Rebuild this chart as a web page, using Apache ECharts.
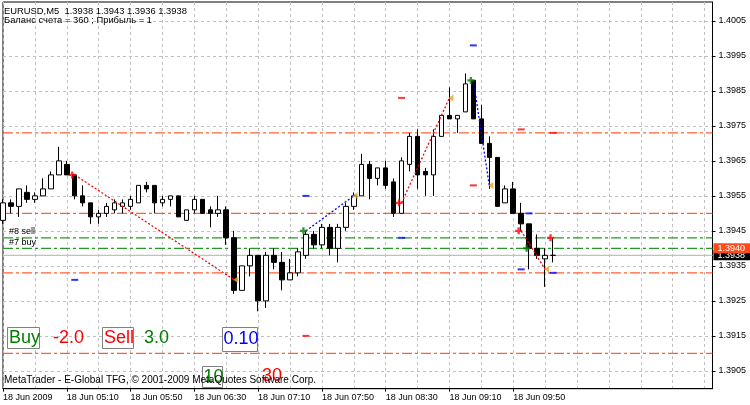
<!DOCTYPE html>
<html><head><meta charset="utf-8">
<script src="https://cdn.jsdelivr.net/npm/echarts@6/dist/echarts.min.js"></script>
<style>html,body{margin:0;padding:0;background:#fff}#c{width:750px;height:405px}</style>
</head><body><div id="c"></div>
<script>
// ---- categories (5-minute bars, 18 Jun 2009) ----
const times = ["04:30","04:35","04:40","04:45","04:50","04:55",
"05:00","05:05","05:10","05:15","05:20","05:25","05:30","05:35","05:40","05:45","05:50","05:55",
"06:00","06:05","06:10","06:15","06:20","06:25","06:30","06:35","06:40","06:45","06:50","06:55",
"07:00","07:05","07:10","07:15","07:20","07:25","07:30","07:35","07:40","07:45","07:50","07:55",
"08:00","08:05","08:10","08:15","08:20","08:25","08:30","08:35","08:40","08:45","08:50","08:55",
"09:00","09:05","09:10","09:15","09:20","09:25","09:30","09:35","09:40","09:45","09:50","09:55",
"10:00","10:05","10:10","10:15","10:20","10:25","10:30","10:35","10:40","10:45","10:50","10:55",
"11:00","11:05","11:10","11:15","11:20","11:25","11:30","11:35","11:40","11:45","11:50","11:55"];
const dateLabel = "18 Jun 2009";
const dayPrefix = "18 Jun ";

// ---- OHLC ----
const opens  = [1.3948,1.3953,1.3952,1.3956,1.3954,1.3955,1.3957,1.3961,1.3964,1.3961,
1.3955,1.3953,1.3949,1.3950,1.3951,1.3952,1.3952,1.3953,1.3958,1.3958,
1.3953,1.3954,1.3955,1.3948,1.3951,1.3954,1.3951,1.3950,1.3951,1.3943,
1.3928,1.3935,1.3938,1.3925,1.3938,1.3936,1.3931,1.3933,1.3938,1.3944,
1.3941,1.3946,1.3940,1.3946,1.3952,1.3955,1.3964,1.3960,1.3963,1.3959,
1.3950,1.3964,1.3972,1.3962,1.3961,1.3972,1.3978,1.3977,1.3979,1.3988,
1.3977,1.3970,1.3966,1.3953,1.3957,1.3950,1.3947,1.3940,1.3937,1.3938];
const highs  = [1.3954,1.3954,1.3957,1.3958,1.3956,1.3960,1.3962,1.3969,1.3965,1.3961,
1.3958,1.3953,1.3951,1.3953,1.3954,1.3954,1.3955,1.3958,1.3959,1.3958,
1.3955,1.3955,1.3955,1.3951,1.3955,1.3954,1.3952,1.3955,1.3952,1.3945,
1.3935,1.3940,1.3938,1.3939,1.3940,1.3939,1.3937,1.3940,1.3945,1.3945,
1.3947,1.3947,1.3947,1.3953,1.3956,1.3967,1.3965,1.3963,1.3965,1.3960,
1.3966,1.3973,1.3974,1.3963,1.3974,1.3978,1.3986,1.3978,1.3990,1.3988,
1.3981,1.3972,1.3966,1.3958,1.3959,1.3953,1.3947,1.3944,1.3940,1.3943];
const lows   = [1.3947,1.3950,1.3949,1.3953,1.3953,1.3955,1.3957,1.3961,1.3961,1.3954,
1.3952,1.3947,1.3947,1.3949,1.3950,1.3950,1.3951,1.3953,1.3956,1.3950,
1.3952,1.3952,1.3949,1.3948,1.3950,1.3950,1.3946,1.3949,1.3941,1.3927,
1.3928,1.3932,1.3922,1.3923,1.3934,1.3928,1.3931,1.3932,1.3937,1.3940,
1.3940,1.3938,1.3936,1.3945,1.3951,1.3955,1.3954,1.3958,1.3957,1.3949,
1.3950,1.3962,1.3957,1.3955,1.3955,1.3972,1.3977,1.3973,1.3979,1.3977,
1.3970,1.3957,1.3952,1.3953,1.3950,1.3945,1.3934,1.3937,1.3929,1.3936];
const closes = [1.3953,1.3952,1.3957,1.3954,1.3955,1.3957,1.3961,1.3965,1.3961,1.3955,
1.3953,1.3949,1.3950,1.3952,1.3953,1.3953,1.3954,1.3958,1.3957,1.3953,
1.3954,1.3955,1.3949,1.3951,1.3954,1.3950,1.3950,1.3951,1.3943,1.3928,
1.3935,1.3938,1.3925,1.3938,1.3936,1.3931,1.3933,1.3939,1.3944,1.3941,
1.3946,1.3940,1.3946,1.3952,1.3955,1.3964,1.3960,1.3963,1.3958,1.3950,
1.3965,1.3972,1.3961,1.3961,1.3972,1.3978,1.3977,1.3978,1.3987,1.3977,
1.3970,1.3966,1.3952,1.3957,1.3950,1.3947,1.3940,1.3938,1.3938,1.3938];

// ---- price axis ticks ----
const priceTicks = [1.3905,1.3915,1.3925,1.3935,1.3945,1.3955,1.3965,1.3975,1.3985,1.3995,1.4005];

// ---- level lines ----
const stopLevels  = [1.3973,1.3950,1.3933,1.3910];
const orderLevels = [1.3943,1.3940];
const orderNames  = ["#8 sell","#7 buy"];
const bidPrice = 1.3938;
const markPrice = 1.3940;

// ---- closed trades ----
const tradeSide       = ["sell","buy","sell","buy","sell"];
const tradeOpenBar    = [9,38,50,59,65];
const tradeOpenPrice  = [1.3961,1.3945,1.3953,1.3988,1.3945];
const tradeCloseBar   = [29,44,56,61,68];
const tradeClosePrice = [1.3931,1.3955,1.3983,1.3958,1.3934];
// ---- open orders ----
const openOrderSide  = ["buy","sell"];
const openOrderBar   = [66,69];
const openOrderPrice = [1.3940,1.3943];
// ---- stop-loss / take-profit markers ----
const slBar   = [38,50,59,65,69];
const slPrice = [1.3915,1.3983,1.3958,1.3974,1.3973];
const tpBar   = [9,38,50,59,65,66,69];
const tpPrice = [1.3931,1.3955,1.3943,1.3998,1.3934,1.3950,1.3933];

// ---- texts ----
const headerLine1 = "EURUSD,M5  1.3938 1.3943 1.3936 1.3938";
const headerLine2 = "Баланс счета = 360 ; Прибыль = 1";
const footerText = "MetaTrader - E-Global TFG, © 2001-2009 MetaQuotes Software Corp.";

const FONT = '"Liberation Sans", Arial, sans-serif';
const lastBar = opens.length - 1;
const lastCat = times.length - 1;
const candleData = opens.map((o,i)=>[o, closes[i], lows[i], highs[i]]);

const PLUS = 'path://M2,0H4V2H6V4H4V6H2V4H0V2H2Z';
const TRI  = 'path://M0,3L5,0L5,6Z';
const DASHDOT = [10,3,3,3];

const series = [];
const flat = (p)=>[[0,p],[lastCat,p]];
stopLevels.forEach(p=>series.push({type:'line', z:1, symbol:'none', silent:true, data:flat(p),
  lineStyle:{color:'#ff6230', type:DASHDOT, width:1.3}}));
orderLevels.forEach((p,i)=>series.push({type:'line', z:1, symbol:'none', silent:true, data:flat(p),
  lineStyle:{color:'#249a24', type:DASHDOT, width:1.3}}));
series.push({type:'line', z:1, symbol:'none', silent:true, data:flat(bidPrice),
  lineStyle:{color:'#c0c0c0', type:'solid', width:1.2},
  endLabel:{show:true, formatter:bidPrice.toFixed(4), color:'#fff', backgroundColor:'#000', fontSize:9, fontFamily:FONT, padding:[1,6,0,4], distance:1}});
series.push({type:'line', z:1, symbol:'none', silent:true, data:flat(markPrice),
  lineStyle:{opacity:0},
  endLabel:{show:true, formatter:markPrice.toFixed(4), color:'#fff', backgroundColor:'#ff4a1a', fontSize:9, fontFamily:FONT, padding:[1,6,0,4], distance:1}});

series.push({type:'candlestick', data:candleData, z:3, barWidth:5, clip:true,
  itemStyle:{color:'#fff', color0:'#000', borderColor:'#000', borderColor0:'#000', borderWidth:1}});

tradeSide.forEach((s,i)=>{
  series.push({type:'line', z:4, symbol:'none', silent:true,
    data:[[tradeOpenBar[i], tradeOpenPrice[i]],[tradeCloseBar[i], tradeClosePrice[i]]],
    lineStyle:{color: s==='sell'?'#ff0000':'#0000ff', width:1.3, type:[2,2]}});
});
series.push({type:'scatter', z:5, symbol:'rect', symbolSize:[7,2], itemStyle:{color:'#ff0000'},
  data: slBar.map((b,i)=>[b, slPrice[i]])});
series.push({type:'scatter', z:5, symbol:'rect', symbolSize:[7,2], itemStyle:{color:'#0000ff'},
  data: tpBar.map((b,i)=>[b, tpPrice[i]])});
const allOpenSide = tradeSide.concat(openOrderSide);
const allOpenBar = tradeOpenBar.concat(openOrderBar);
const allOpenPrice = tradeOpenPrice.concat(openOrderPrice);
series.push({type:'scatter', z:6, symbol:PLUS, symbolSize:7, symbolOffset:[-2.5,0],
  data: allOpenBar.map((b,i)=>({value:[b, allOpenPrice[i]], itemStyle:{color: allOpenSide[i]==='sell'?'#ff0000':'#008000'}}))});
series.push({type:'scatter', z:6, symbol:TRI, symbolSize:[5,7], symbolOffset:[1.5,0], itemStyle:{color:'#eea020'},
  data: tradeCloseBar.map((b,i)=>[b, tradeClosePrice[i]])});

const txt = (x,y,text,size,color,extra)=>Object.assign({type:'text', x:x, y:y, z:100,
  style:{text:text, fill:color, font: size+'px '+FONT, verticalAlign:'middle', align:'left'}}, extra||{});
const box = (x,y,w,h)=>({type:'rect', z:99, shape:{x:x,y:y,width:w,height:h}, style:{fill:'#fff', stroke:'#808080', lineWidth:1}});

const option = {
  animation:false,
  backgroundColor:'#fff',
  grid:{left:2.5, top:2, right:37.5, bottom:16.3, show:true, borderColor:'#000', borderWidth:1, backgroundColor:'#fff'},
  xAxis:{type:'category', data:times, boundaryGap:false,
    axisLine:{show:true, lineStyle:{color:'#000', width:1}},
    axisTick:{show:true, length:3, interval:(i)=> i%8===0 && i<=lastBar, lineStyle:{color:'#000'}},
    axisLabel:{show:true, interval:(i)=> i%8===0 && i<=lastBar, align:'left', margin:4, color:'#000', fontSize:9, fontFamily:FONT,
      formatter:(v,i)=> i===0 ? dateLabel : dayPrefix+v},
    splitLine:{show:true, interval:(i)=> i%4===0, lineStyle:{color:'#c0c0c0', type:[3,3], width:1}}},
  yAxis:{type:'value', position:'right', min:1.38999, max:1.40104,
    axisLine:{show:true, lineStyle:{color:'#000'}},
    axisTick:{show:true, length:3, customValues:priceTicks, lineStyle:{color:'#000'}},
    axisLabel:{show:true, customValues:priceTicks, margin:6, color:'#000', fontSize:9, fontFamily:FONT, formatter:(v)=>Number(v).toFixed(4)},
    splitLine:{show:true, lineStyle:{color:'#c0c0c0', type:[3,3], width:1}}},
  series: series,
  graphic:[]
};
const chart = echarts.init(document.getElementById('c'));
chart.setOption(option);

const capX = chart.convertToPixel({gridIndex:0}, [0, orderLevels[0]])[0] + 6;
const gfx = [
  txt(4, 11, headerLine1, 9.4, '#000'),
  txt(4, 20.5, headerLine2, 9.4, '#000'),
  box(7.5, 327.5, 32, 21), txt(9, 338.5, 'Buy', 18, '#008000'),
  txt(53, 338.5, '-2.0', 18, '#ff0000'),
  box(102.5, 327.5, 31, 21), txt(104, 338.5, 'Sell', 18, '#ff0000'),
  txt(144, 338.5, '3.0', 18, '#008000'),
  box(222.5, 327.5, 35, 24), txt(223.5, 339.5, '0.10', 18, '#0000ff'),
  box(202.5, 366.5, 20, 21), txt(203.5, 377, '10', 18, '#008000'),
  txt(262, 376, '30', 18, '#ff0000'),
  Object.assign(txt(4, 380, footerText, 10, '#000'), {z:101})
];
orderLevels.forEach((p,i)=>{
  const y = chart.convertToPixel({gridIndex:0}, [0, p])[1];
  gfx.push(txt(capX, y - 6, orderNames[i], 9, '#000'));
});
chart.setOption({graphic: gfx});
</script></body></html>
